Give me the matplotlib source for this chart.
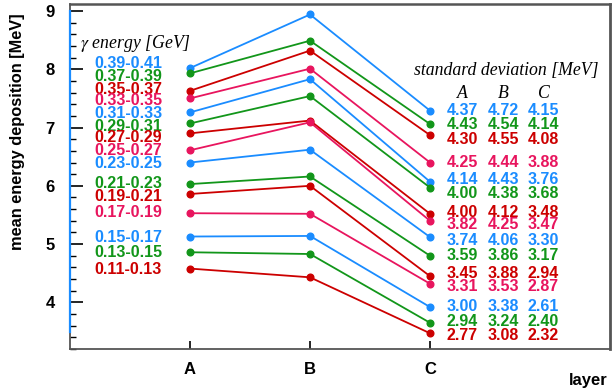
import matplotlib
matplotlib.use("Agg")
import matplotlib.pyplot as plt
from matplotlib.ticker import MultipleLocator, FixedLocator

layers = ["A", "B", "C"]
energy_labels = ["0.39-0.41", "0.37-0.39", "0.35-0.37", "0.33-0.35", "0.31-0.33",
                 "0.29-0.31", "0.27-0.29", "0.25-0.27", "0.23-0.25", "0.21-0.23",
                 "0.19-0.21", "0.17-0.19", "0.15-0.17", "0.13-0.15", "0.11-0.13"]
mean_A = [8.02, 7.93, 7.63, 7.50, 7.26, 7.07, 6.90, 6.61, 6.40, 6.03, 5.86, 5.53, 5.13, 4.86, 4.58]
mean_B = [8.94, 8.49, 8.32, 8.01, 7.83, 7.54, 7.12, 7.09, 6.62, 6.16, 6.00, 5.52, 5.14, 4.83, 4.43]
mean_C = [7.29, 7.06, 6.87, 6.40, 6.07, 5.97, 5.52, 5.40, 5.12, 4.80, 4.45, 4.32, 3.92, 3.65, 3.47]
std_A = ["4.37", "4.43", "4.30", "4.25", "4.14", "4.00", "4.00", "3.82", "3.74", "3.59", "3.45", "3.31", "3.00", "2.94", "2.77"]
std_B = ["4.72", "4.54", "4.55", "4.44", "4.43", "4.38", "4.12", "4.25", "4.06", "3.86", "3.88", "3.53", "3.38", "3.24", "3.08"]
std_C = ["4.15", "4.14", "4.08", "3.88", "3.76", "3.68", "3.48", "3.47", "3.30", "3.17", "2.94", "2.87", "2.61", "2.40", "2.32"]
palette = ["#1a8cff", "#12961a", "#cc0000", "#e8155e"]

# label placement (layout)
left_label_y = [8.10, 7.87, 7.65, 7.47, 7.24, 7.02, 6.83, 6.60, 6.38, 6.04, 5.81, 5.54, 5.12, 4.86, 4.57]
table_y = [7.29, 7.06, 6.80, 6.40, 6.10, 5.87, 5.54, 5.33, 5.06, 4.80, 4.49, 4.27, 3.93, 3.67, 3.44]

W, H = 612, 392
fig = plt.figure(figsize=(W / 100, H / 100), dpi=100)
ax = fig.add_axes([70 / W, 1 - 349 / H, 540 / W, 345 / H])
ax.set_xlim(0, 4.5)
ax.set_ylim(3.20, 9.12)

xs = [1, 2, 3]
for i in range(len(energy_labels)):
    c = palette[i % 4]
    ax.plot(xs, [mean_A[i], mean_B[i], mean_C[i]], color=c, lw=1.3,
            marker="o", ms=4.8, zorder=3)
    ax.text(0.767, left_label_y[i], energy_labels[i], color=c, fontsize=11.5,
            fontweight="bold", family="Liberation Sans", ha="right", va="center")
    for col, vals in zip([3.27, 3.61, 3.945], [std_A, std_B, std_C]):
        ax.text(col, table_y[i], vals[i], color=c, fontsize=11.5,
                fontweight="bold", family="Liberation Sans", ha="center", va="center")

ax.text(0.08, 8.44, r"$\gamma$ energy [GeV]", fontsize=12.8, style="italic",
        family="Liberation Serif", ha="left", va="center",
        math_fontfamily="stix")
ax.text(3.635, 7.98, "standard deviation [MeV]", fontsize=12.8, style="italic",
        family="Liberation Serif", ha="center", va="center")
for col, name in zip([3.27, 3.61, 3.945], layers):
    ax.text(col, 7.58, name, fontsize=12.8, style="italic",
            family="Liberation Serif", ha="center", va="center")

# blue left axis segment
ylo, yhi = ax.get_ylim()
ax.axvline(0, ymin=(3.5 - ylo) / (yhi - ylo), ymax=(9.0 - ylo) / (yhi - ylo),
           color=palette[0], lw=1.6, zorder=5, clip_on=False)

ax.xaxis.set_major_locator(FixedLocator(xs))
ax.set_xticklabels(layers)
ax.yaxis.set_major_locator(MultipleLocator(1))
ax.yaxis.set_minor_locator(MultipleLocator(0.2))
ax.tick_params(axis="y", which="major", direction="in", length=9, width=1.2, pad=11)
ax.tick_params(axis="y", which="minor", direction="in", length=4.5, width=1.0)
ax.tick_params(axis="x", which="major", direction="in", length=6, width=1.2, pad=9)
for lab in ax.get_xticklabels() + ax.get_yticklabels():
    lab.set_fontweight("bold")
    lab.set_fontfamily("Liberation Sans")
    lab.set_fontsize(12)
for s in ax.spines.values():
    s.set_color("#555555")
    s.set_linewidth(1.3)
ax.spines["right"].set_linewidth(2.0)
ax.spines["top"].set_linewidth(1.8)

fig.text(18 / W, 1 - 13 / H, "mean energy deposition [MeV]", rotation=90,
         fontsize=11.8, fontweight="bold", family="Liberation Sans",
         ha="center", va="top")
fig.text(608 / W, 1 - 380 / H, "layer", fontsize=12, fontweight="bold",
         family="Liberation Sans", ha="right", va="center")

fig.savefig("out.png", dpi=100)
